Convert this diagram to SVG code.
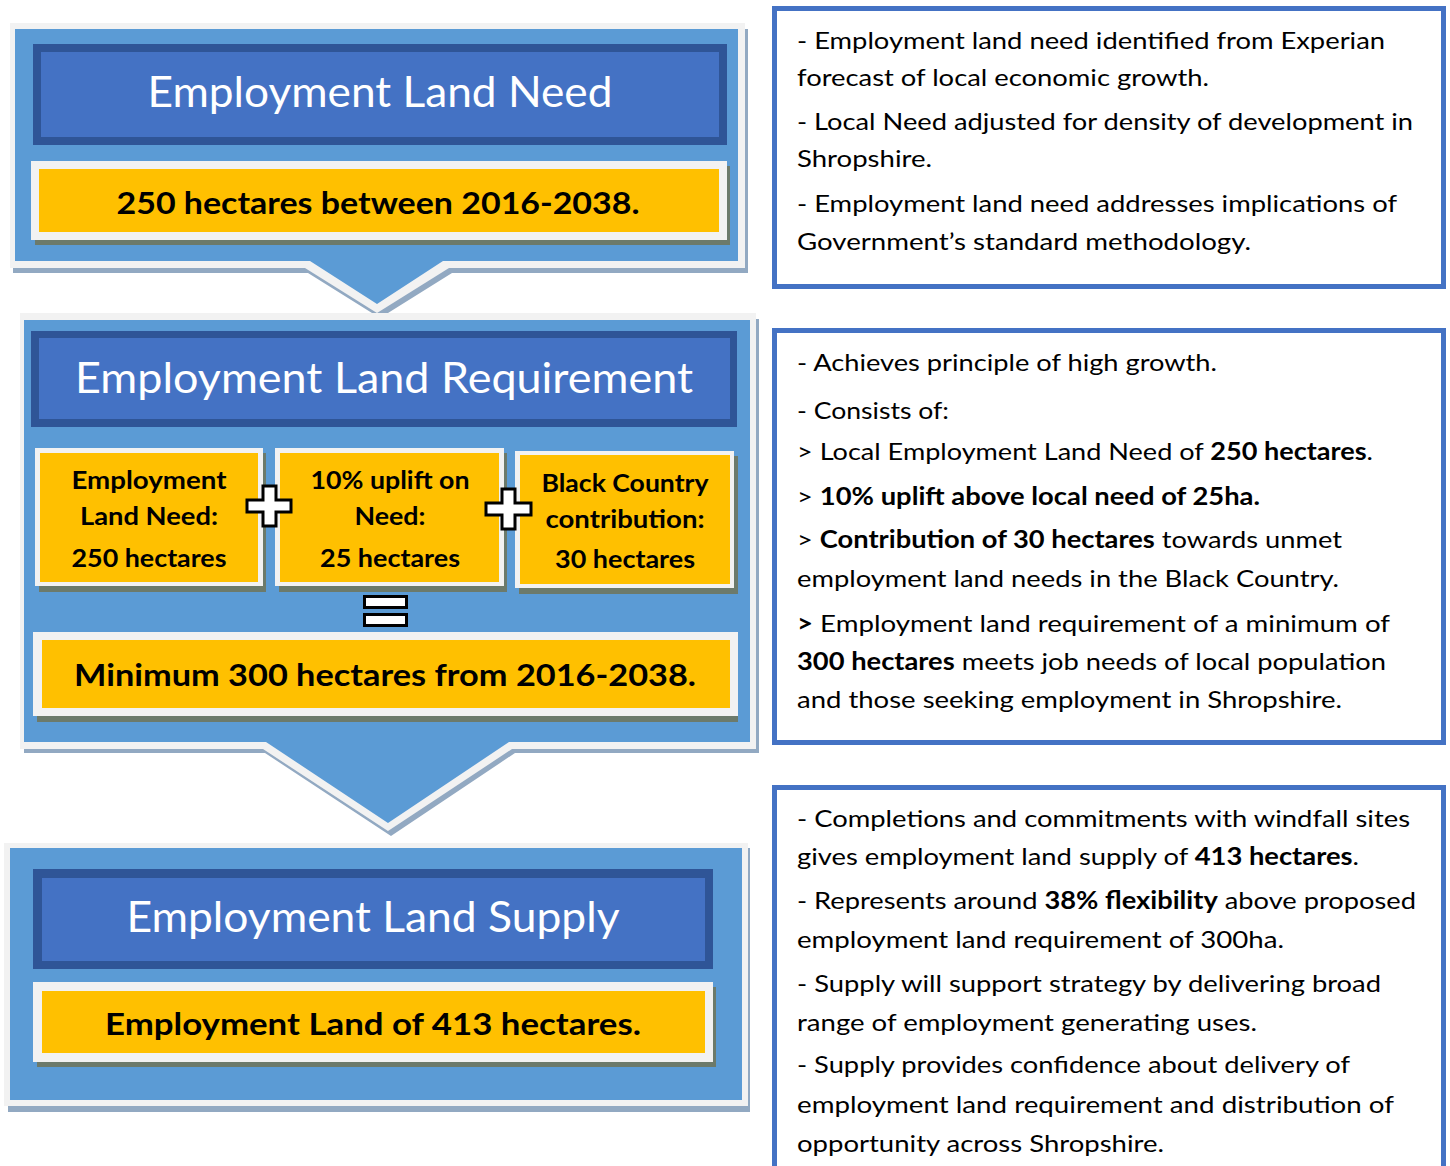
<svg xmlns="http://www.w3.org/2000/svg" width="1450" height="1166" viewBox="0 0 1450 1166">
<style>
.frame{fill:#f2f2f2}
.oshadow{fill:#92a9c2}
.blue{fill:#5b9bd5}
.tdark{fill:#2f5597}
.tin{fill:#4472c4}
.yframe{fill:#f2f2f2}
.yshadow{fill:#6c7a6b}
.yel{fill:#ffc000}
.title{font-family:Lato,"Liberation Sans",sans-serif;font-size:42px;fill:#ffffff;text-anchor:middle}
.ytext{font-family:Lato,"Liberation Sans",sans-serif;font-size:30px;font-weight:bold;fill:#000;text-anchor:middle}
.stext{font-family:Lato,"Liberation Sans",sans-serif;font-size:24px;font-weight:bold;fill:#000;text-anchor:middle}
.note{fill:#ffffff;stroke:#4472c4;stroke-width:5}
.nt{font-family:Lato,"Liberation Sans",sans-serif;font-size:24px;fill:#000}
.b{font-weight:bold}
.sym{fill:#ffffff;stroke:#000;stroke-width:3}
</style>
<rect width="1450" height="1166" fill="#ffffff"/>

<g id="need">
<polygon class="oshadow" points="13,29 748,29 748,273 452,273 380,318 308,273 13,273"/>
<polygon class="frame" points="10,23 745,23 745,268 449,268 377,313 305,268 10,268"/>
<polygon class="blue" points="15,29 738,29 738,261 443,261 377,304 310,261 15,261"/>
<rect class="tdark" x="33" y="44" width="694" height="101"/>
<rect class="tin" x="41" y="52" width="678" height="85"/>
<text class="title" x="380" y="107" textLength="465" lengthAdjust="spacingAndGlyphs">Employment Land Need</text>
<rect class="yshadow" x="35" y="166" width="695" height="79"/>
<rect class="yframe" x="31" y="161" width="696" height="79"/>
<rect class="yel" x="39" y="169" width="680" height="63"/>
<text class="ytext" x="378" y="214" textLength="523" lengthAdjust="spacingAndGlyphs">250 hectares between 2016-2038.</text>
</g>

<g id="requirement">
<polygon class="oshadow" points="24,319 759,319 759,753 515,753 391,836 265,753 24,753"/>
<polygon class="frame" points="20,313 756,313 756,749 512,749 388,831 263,749 20,749"/>
<polygon class="blue" points="24,320 750,320 750,742 509,742 388,823 266,742 24,742"/>
<rect class="tdark" x="31" y="331" width="706" height="96"/>
<rect class="tin" x="39" y="338" width="691" height="81"/>
<text class="title" x="384" y="393" textLength="618" lengthAdjust="spacingAndGlyphs">Employment Land Requirement</text>

<g id="part-need">
<rect class="yshadow" x="39" y="453" width="227" height="139"/>
<rect class="yframe" x="35" y="448" width="228" height="138"/>
<rect class="yel" x="40" y="453" width="218" height="129"/>
<text class="stext" x="149" y="489" textLength="155" lengthAdjust="spacingAndGlyphs">Employment</text>
<text class="stext" x="149" y="525" textLength="138" lengthAdjust="spacingAndGlyphs">Land Need:</text>
<text class="stext" x="149" y="567" textLength="155" lengthAdjust="spacingAndGlyphs">250 hectares</text>
</g>
<g id="part-uplift">
<rect class="yshadow" x="279" y="453" width="228" height="139"/>
<rect class="yframe" x="275" y="448" width="229" height="138"/>
<rect class="yel" x="280" y="453" width="219" height="129"/>
<text class="stext" x="390" y="489" textLength="159" lengthAdjust="spacingAndGlyphs">10% uplift on</text>
<text class="stext" x="390" y="525" textLength="71" lengthAdjust="spacingAndGlyphs">Need:</text>
<text class="stext" x="390" y="567" textLength="140" lengthAdjust="spacingAndGlyphs">25 hectares</text>
</g>
<g id="part-blackcountry">
<rect class="yshadow" x="519" y="456" width="219" height="138"/>
<rect class="yframe" x="515" y="451" width="219" height="137"/>
<rect class="yel" x="520" y="455" width="210" height="129"/>
<text class="stext" x="625" y="492" textLength="167" lengthAdjust="spacingAndGlyphs">Black Country</text>
<text class="stext" x="625" y="528" textLength="159" lengthAdjust="spacingAndGlyphs">contribution:</text>
<text class="stext" x="625" y="568" textLength="140" lengthAdjust="spacingAndGlyphs">30 hectares</text>
</g>
<g id="plus1">
<polygon class="sym" points="263,486 276,486 276,500 291,500 291,512 276,512 276,526 263,526 263,512 247,512 247,500 263,500"/>
</g>
<g id="plus2">
<polygon class="sym" points="502,489 515,489 515,503 531,503 531,515 515,515 515,529 502,529 502,515 486,515 486,503 502,503"/>
</g>
<g id="equals">
<rect class="sym" x="364.5" y="596.5" width="42" height="11"/>
<rect class="sym" x="364.5" y="614.5" width="42" height="11"/>
</g>
<rect class="yshadow" x="37" y="637" width="701" height="85"/>
<rect class="yframe" x="33" y="632" width="705" height="84"/>
<rect class="yel" x="42" y="640" width="688" height="68"/>
<text class="ytext" x="385" y="686" textLength="622" lengthAdjust="spacingAndGlyphs">Minimum 300 hectares from 2016-2038.</text>
</g>

<g id="supply">
<rect class="oshadow" x="8" y="848" width="742" height="264"/>
<rect class="frame" x="4" y="843" width="744" height="263"/>
<rect class="blue" x="10" y="848" width="732" height="252"/>
<rect class="tdark" x="33" y="869" width="680" height="100"/>
<rect class="tin" x="42" y="878" width="663" height="83"/>
<text class="title" x="373" y="932" textLength="493" lengthAdjust="spacingAndGlyphs">Employment Land Supply</text>
<rect class="yshadow" x="37" y="987" width="679" height="80"/>
<rect class="yframe" x="33" y="982" width="680" height="80"/>
<rect class="yel" x="42" y="991" width="663" height="62"/>
<text class="ytext" x="373" y="1035" textLength="536" lengthAdjust="spacingAndGlyphs">Employment Land of 413 hectares.</text>
</g>

<g id="note-need">
<rect class="note" x="774.5" y="8.5" width="669" height="278"/>
<text class="nt" x="797" y="49" textLength="588" lengthAdjust="spacingAndGlyphs">- Employment land need identified from Experian</text>
<text class="nt" x="797" y="86" textLength="412" lengthAdjust="spacingAndGlyphs">forecast of local economic growth.</text>
<text class="nt" x="797" y="130" textLength="616" lengthAdjust="spacingAndGlyphs">- Local Need adjusted for density of development in</text>
<text class="nt" x="797" y="167" textLength="135" lengthAdjust="spacingAndGlyphs">Shropshire.</text>
<text class="nt" x="797" y="212" textLength="600" lengthAdjust="spacingAndGlyphs">- Employment land need addresses implications of</text>
<text class="nt" x="797" y="250" textLength="454" lengthAdjust="spacingAndGlyphs">Government’s standard methodology.</text>
</g>

<g id="note-requirement">
<rect class="note" x="774.5" y="330.5" width="669" height="412"/>
<text class="nt" x="797" y="371" textLength="420" lengthAdjust="spacingAndGlyphs">- Achieves principle of high growth.</text>
<text class="nt" x="797" y="419" textLength="152" lengthAdjust="spacingAndGlyphs">- Consists of:</text>
<text class="nt" x="797" y="460" textLength="576" lengthAdjust="spacingAndGlyphs">&gt; Local Employment Land Need of <tspan class="b">250 hectares</tspan>.</text>
<text class="nt" x="797" y="505" textLength="463" lengthAdjust="spacingAndGlyphs">&gt; <tspan class="b">10% uplift above local need of 25ha.</tspan></text>
<text class="nt" x="797" y="548" textLength="545" lengthAdjust="spacingAndGlyphs">&gt; <tspan class="b">Contribution of 30 hectares</tspan> towards unmet</text>
<text class="nt" x="797" y="587" textLength="542" lengthAdjust="spacingAndGlyphs">employment land needs in the Black Country.</text>
<text class="nt" x="797" y="632" textLength="593" lengthAdjust="spacingAndGlyphs"><tspan class="b">&gt;</tspan> Employment land requirement of a minimum of</text>
<text class="nt" x="797" y="670" textLength="589" lengthAdjust="spacingAndGlyphs"><tspan class="b">300 hectares</tspan> meets job needs of local population</text>
<text class="nt" x="797" y="708" textLength="545" lengthAdjust="spacingAndGlyphs">and those seeking employment in Shropshire.</text>
</g>

<g id="note-supply">
<rect class="note" x="774.5" y="787.5" width="669" height="420"/>
<text class="nt" x="797" y="827" textLength="613" lengthAdjust="spacingAndGlyphs">- Completions and commitments with windfall sites</text>
<text class="nt" x="797" y="865" textLength="562" lengthAdjust="spacingAndGlyphs">gives employment land supply of <tspan class="b">413 hectares</tspan>.</text>
<text class="nt" x="797" y="909" textLength="619" lengthAdjust="spacingAndGlyphs">- Represents around <tspan class="b">38% flexibility</tspan> above proposed</text>
<text class="nt" x="797" y="948" textLength="487" lengthAdjust="spacingAndGlyphs">employment land requirement of 300ha.</text>
<text class="nt" x="797" y="992" textLength="584" lengthAdjust="spacingAndGlyphs">- Supply will support strategy by delivering broad</text>
<text class="nt" x="797" y="1031" textLength="460" lengthAdjust="spacingAndGlyphs">range of employment generating uses.</text>
<text class="nt" x="797" y="1073" textLength="553" lengthAdjust="spacingAndGlyphs">- Supply provides confidence about delivery of</text>
<text class="nt" x="797" y="1113" textLength="597" lengthAdjust="spacingAndGlyphs">employment land requirement and distribution of</text>
<text class="nt" x="797" y="1152" textLength="367" lengthAdjust="spacingAndGlyphs">opportunity across Shropshire.</text>
</g>

<g id="connectors"></g>
</svg>
